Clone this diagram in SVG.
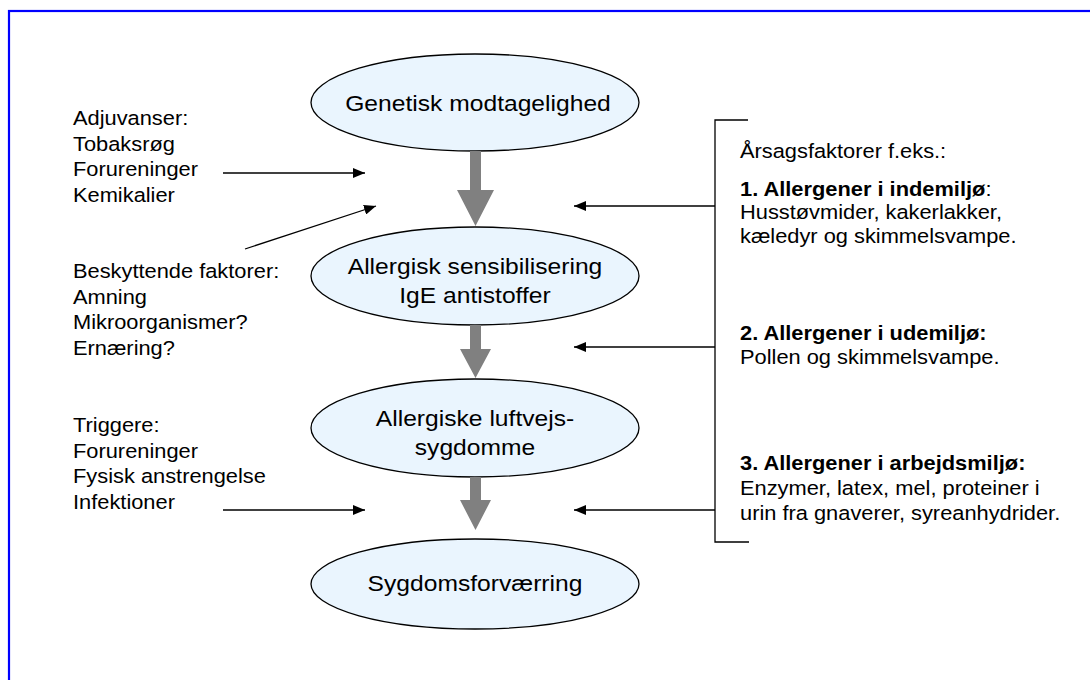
<svg xmlns="http://www.w3.org/2000/svg" width="1090" height="680" viewBox="0 0 1090 680">
  <style>
    text { font-family: "Liberation Sans", Arial, sans-serif; fill: #000; }
    .node ellipse { fill: #eaf5fe; stroke: #000; stroke-width: 1.3; }
    .node text { font-size: 22px; text-anchor: middle; }
    .side { font-size: 19.5px; }
    .b { font-weight: bold; }
    .flow { fill: #808080; }
    .thin { stroke: #000; stroke-width: 1.3; fill: none; }
  </style>
  <defs>
    <marker id="head" viewBox="0 0 12 10" refX="12" refY="5" markerWidth="12" markerHeight="10" markerUnits="userSpaceOnUse" orient="auto">
      <path d="M0,0 L12,5 L0,10 Z" fill="#000"/>
    </marker>
  </defs>

  <rect width="1090" height="680" fill="#fff"/>
  <!-- frame -->
  <rect x="9" y="11" width="1100" height="690" fill="none" stroke="#0000ff" stroke-width="2.2"/>

  <!-- nodes -->
  <g id="genetisk" class="node">
    <ellipse cx="475" cy="102.5" rx="164" ry="48.5"/>
    <text transform="translate(478 111) scale(1.12 1)">Genetisk modtagelighed</text>
  </g>
  <g id="sensibilisering" class="node">
    <ellipse cx="475" cy="276" rx="164" ry="49"/>
    <text transform="translate(475 274) scale(1.12 1)">Allergisk sensibilisering<tspan x="0" dy="29">IgE antistoffer</tspan></text>
  </g>
  <g id="luftvej" class="node">
    <ellipse cx="475" cy="428" rx="164" ry="49"/>
    <text transform="translate(475 426) scale(1.12 1)">Allergiske luftvejs-<tspan x="0" dy="29">sygdomme</tspan></text>
  </g>
  <g id="forvaerring" class="node">
    <ellipse cx="475" cy="584" rx="164" ry="45"/>
    <text transform="translate(475 591) scale(1.12 1)">Sygdomsforværring</text>
  </g>

  <!-- side labels -->
  <g id="adjuvanser">
    <text class="side" transform="translate(73 125) scale(1.12 1)">Adjuvanser:<tspan x="0" dy="25.7">Tobaksrøg</tspan><tspan x="0" dy="25.7">Forureninger</tspan><tspan x="0" dy="25.7">Kemikalier</tspan></text>
  </g>
  <g id="beskyttende">
    <text class="side" transform="translate(73 278) scale(1.12 1)">Beskyttende faktorer:<tspan x="0" dy="25.7">Amning</tspan><tspan x="0" dy="25.7">Mikroorganismer?</tspan><tspan x="0" dy="25.7">Ernæring?</tspan></text>
  </g>
  <g id="triggere">
    <text class="side" transform="translate(73 432) scale(1.12 1)">Triggere:<tspan x="0" dy="25.7">Forureninger</tspan><tspan x="0" dy="25.7">Fysisk anstrengelse</tspan><tspan x="0" dy="25.7">Infektioner</tspan></text>
  </g>
  <g id="aarsag">
    <text class="side" transform="translate(740 158) scale(1.12 1)">Årsagsfaktorer f.eks.:</text>
    <text class="side" transform="translate(740 196) scale(1.12 1)"><tspan class="b">1. Allergener i indemiljø</tspan>:<tspan x="0" dy="23.5">Husstøvmider, kakerlakker,</tspan><tspan x="0" dy="23.5">kæledyr og skimmelsvampe.</tspan></text>
    <text class="side" transform="translate(740 340) scale(1.12 1)"><tspan class="b">2. Allergener i udemiljø:</tspan><tspan x="0" dy="24">Pollen og skimmelsvampe.</tspan></text>
    <text class="side" transform="translate(740 470) scale(1.12 1)"><tspan class="b">3. Allergener i arbejdsmiljø:</tspan><tspan x="0" dy="25">Enzymer, latex, mel, proteiner i</tspan><tspan x="0" dy="25">urin fra gnaverer, syreanhydrider.</tspan></text>
  </g>

  <!-- connectors -->
  <g id="connectors">
    <!-- main flow arrows -->
    <path class="flow" d="M470,151 H481 V190 H494 L475.5,226 L457,190 H470 Z"/>
    <path class="flow" d="M470,325 H481 V349 H491 L475.5,378 L460,349 H470 Z"/>
    <path class="flow" d="M470,477 H481 V500 H491 L475.5,530 L460,500 H470 Z"/>
    <!-- influences from the left -->
    <line class="thin" x1="223" y1="173" x2="365" y2="173" marker-end="url(#head)"/>
    <line class="thin" x1="245" y1="249" x2="376" y2="206" marker-end="url(#head)"/>
    <line class="thin" x1="223" y1="510" x2="365" y2="510" marker-end="url(#head)"/>
    <!-- bracket and influences from the right -->
    <path class="thin" d="M748,120 H715 V542 H749"/>
    <line class="thin" x1="715" y1="206" x2="574" y2="206" marker-end="url(#head)"/>
    <line class="thin" x1="715" y1="347" x2="574" y2="347" marker-end="url(#head)"/>
    <line class="thin" x1="715" y1="510" x2="574" y2="510" marker-end="url(#head)"/>
  </g>
</svg>
